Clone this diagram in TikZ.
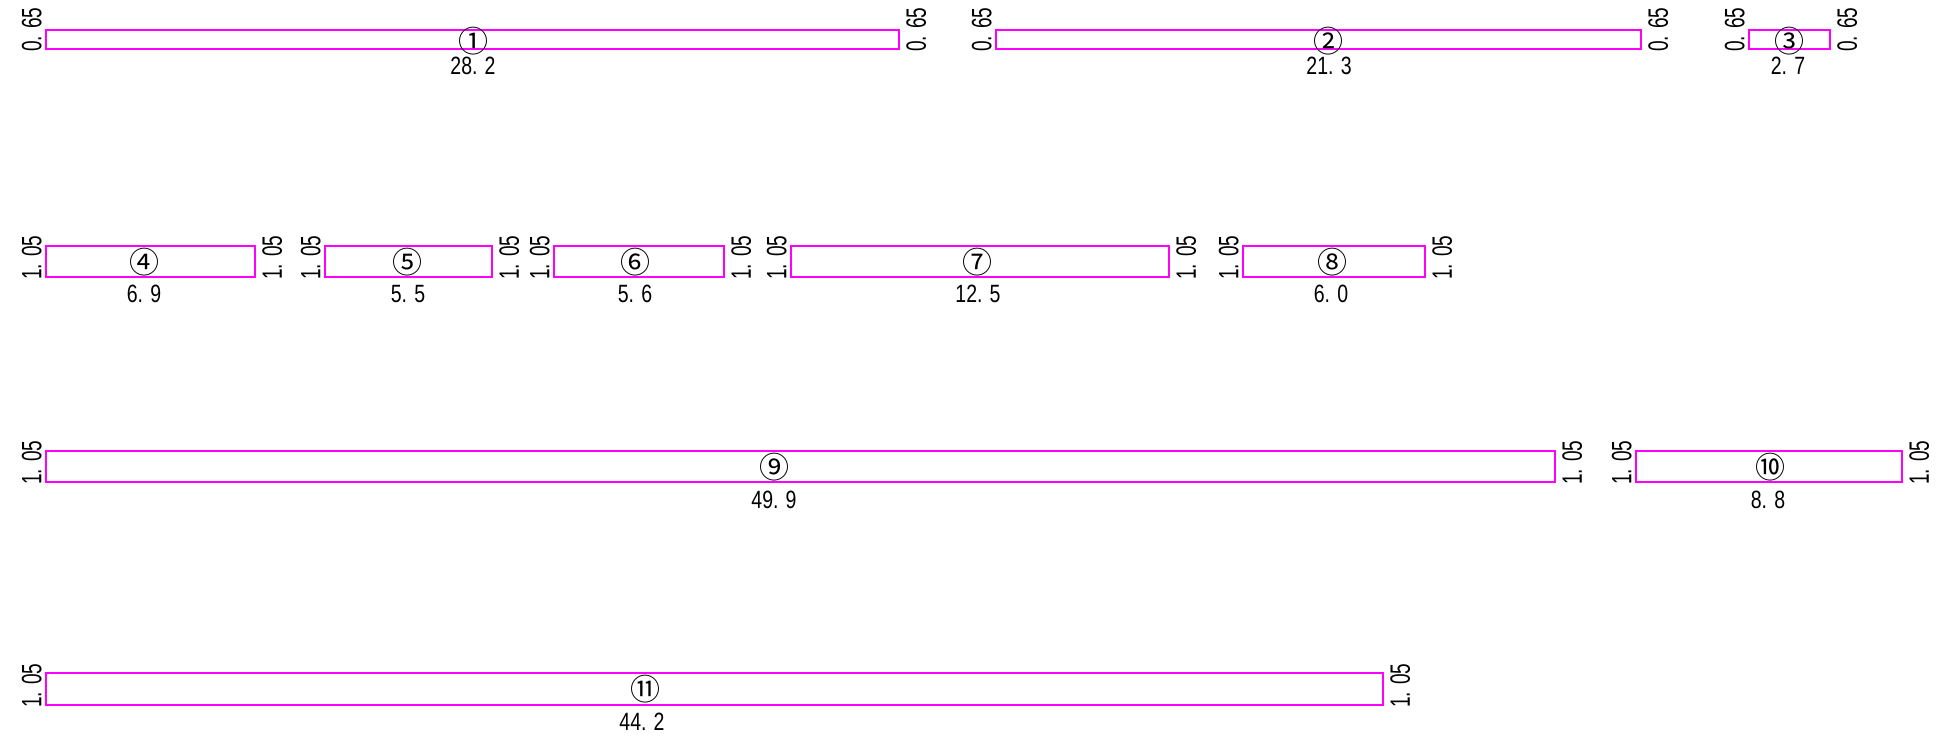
\documentclass[tikz,border=0pt]{standalone}
\usepackage{fontspec}
\setmainfont{Liberation Sans}
\newfontfamily\lenfont{Liberation Sans}[FakeStretch=0.78]
\newfontfamily\hgtfont{Liberation Sans}[FakeStretch=0.68]
\newfontfamily\numfont{Noto Sans CJK JP}
\definecolor{barmagenta}{RGB}{255,0,255}
\tikzset{
  bar/.style={draw=barmagenta, line width=1.25pt},
  num/.style={inner sep=0pt, font=\numfont\fontsize{15pt}{15pt}\selectfont},
  len/.style={anchor=north, inner sep=0pt, font=\lenfont\fontsize{12.5pt}{12.5pt}\selectfont},
  hl/.style={rotate=90, anchor=south west, inner sep=0pt, font=\hgtfont\fontsize{14pt}{14pt}\selectfont},
  hr/.style={rotate=90, anchor=north west, inner sep=0pt, font=\hgtfont\fontsize{14pt}{14pt}\selectfont}
}
\begin{document}
\begin{tikzpicture}[x=0.5pt,y=-0.5pt]
            \useasboundingbox (0,0) rectangle (1953,737);
            % row 1
            \draw[bar] (46,30) rectangle (899,49);
            \node[num] (n1) at (473,41) {①};
            \node[len] (l1) at (473,57) {28. 2};
            \node[hl] (a1) at (42,52) {0. 65};
            \node[hr] (b1) at (906,52) {0. 65};
            \draw[bar] (996,30) rectangle (1641,49);
            \node[num] (n2) at (1328,41) {②};
            \node[len] (l2) at (1329,57) {21. 3};
            \node[hl] (a2) at (992,52) {0. 65};
            \node[hr] (b2) at (1648,52) {0. 65};
            \draw[bar] (1749,30) rectangle (1830,49);
            \node[num] (n3) at (1789,41) {③};
            \node[len] (l3) at (1788,57) {2. 7};
            \node[hl] (a3) at (1745,52) {0. 65};
            \node[hr] (b3) at (1837,52) {0. 65};
            % row 2
            \draw[bar] (46,246) rectangle (255,277);
            \node[num] (n4) at (144,262) {④};
            \node[len] (l4) at (144,285) {6. 9};
            \node[hl] (a4) at (42,280) {1. 05};
            \node[hr] (b4) at (262,280) {1. 05};
            \draw[bar] (325,246) rectangle (492,277);
            \node[num] (n5) at (407,262) {⑤};
            \node[len] (l5) at (408,285) {5. 5};
            \node[hl] (a5) at (321,280) {1. 05};
            \node[hr] (b5) at (499,280) {1. 05};
            \draw[bar] (554,246) rectangle (724,277);
            \node[num] (n6) at (635,262) {⑥};
            \node[len] (l6) at (635,285) {5. 6};
            \node[hl] (a6) at (550,280) {1. 05};
            \node[hr] (b6) at (731,280) {1. 05};
            \draw[bar] (791,246) rectangle (1169,277);
            \node[num] (n7) at (977,262) {⑦};
            \node[len] (l7) at (978,285) {12. 5};
            \node[hl] (a7) at (787,280) {1. 05};
            \node[hr] (b7) at (1176,280) {1. 05};
            \draw[bar] (1243,246) rectangle (1425,277);
            \node[num] (n8) at (1332,262) {⑧};
            \node[len] (l8) at (1331,285) {6. 0};
            \node[hl] (a8) at (1239,280) {1. 05};
            \node[hr] (b8) at (1432,280) {1. 05};
            % row 3
            \draw[bar] (46,451) rectangle (1555,482);
            \node[num] (n9) at (774,467) {⑨};
            \node[len] (l9) at (774,491) {49. 9};
            \node[hl] (a9) at (42,485) {1. 05};
            \node[hr] (b9) at (1562,485) {1. 05};
            \draw[bar] (1636,451) rectangle (1902,482);
            \node[num] (n10) at (1770,467) {⑩};
            \node[len] (l10) at (1768,491) {8. 8};
            \node[hl] (a10) at (1632,485) {1. 05};
            \node[hr] (b10) at (1909,485) {1. 05};
            % row 4
            \draw[bar] (46,673) rectangle (1383,705);
            \node[num] (n11) at (645,689) {⑪};
            \node[len] (l11) at (642,713) {44. 2};
            \node[hl] (a11) at (42,708) {1. 05};
            \node[hr] (b11) at (1390,708) {1. 05};
        \end{tikzpicture}
\end{document}
